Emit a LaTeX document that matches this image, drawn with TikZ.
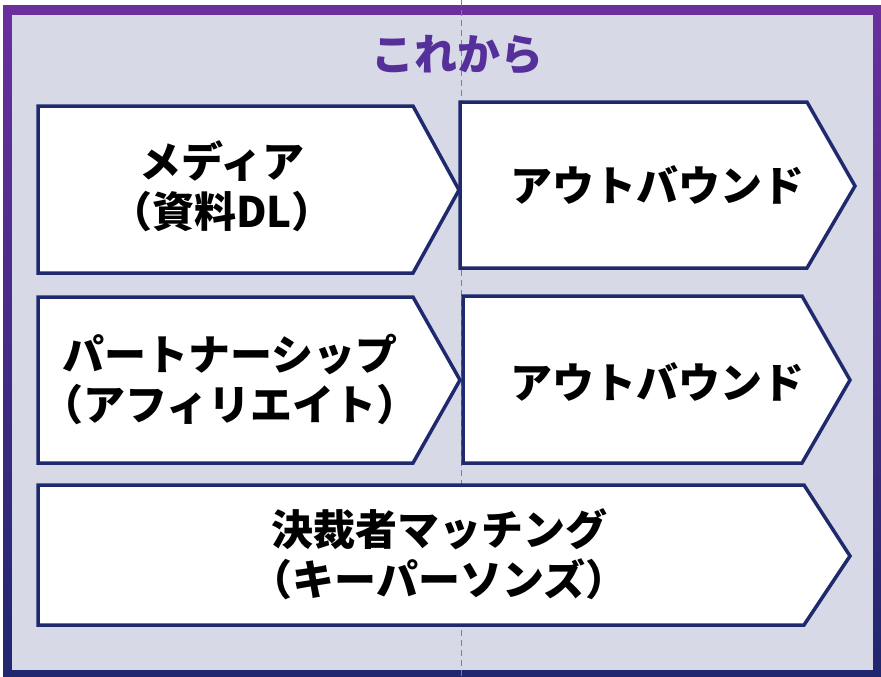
\documentclass[tikz,border=0pt]{standalone}
\usepackage{fontspec}
\newfontfamily\jpfont{Noto Sans CJK JP}
\definecolor{framepurple}{HTML}{6B2F9E}
\definecolor{framenavy}{HTML}{20276F}
\definecolor{panelbg}{HTML}{D7D9E6}
\definecolor{boxline}{HTML}{1F2A6E}
\definecolor{titlepurple}{HTML}{55309A}
\tikzset{
  chevron/.style={draw=boxline, line width=3.5pt, fill=white, line join=miter},
  boxtext/.style={font=\jpfont\bfseries\fontsize{42}{50}\selectfont, align=center, inner sep=0pt},
}

\begin{document}
\begin{tikzpicture}[x=1pt, y=-1pt]
			%%%%% FRAME %%%%%
			\useasboundingbox (0, 0) rectangle (881, 677);
			\shade[top color=framepurple, bottom color=framenavy] (3, 6) rectangle (881, 677);
			\fill[panelbg] (12, 15) rectangle (873, 670);
			\draw[gray, line width=1pt, dash pattern=on 6pt off 4pt] (461, 0) -- (461, 677);
			
			\node[font=\jpfont\bfseries\fontsize{43}{48}\selectfont, text=titlepurple, inner sep=0pt] (title) at (457, 55) {これから};
			
			%%%%% ROW 1 %%%%%
			\draw[chevron] (38, 106) -- (413, 106) -- (459, 190) -- (413, 273) -- (38, 273) -- cycle;
			\node[boxtext] (media) at (222, 186) {メディア\\（資料DL）};
			
			\draw[chevron] (460, 102) -- (807, 102) -- (855, 186) -- (807, 268) -- (460, 268) -- cycle;
			\node[boxtext] (outboundA) at (657, 185) {アウトバウンド};
			
			%%%%% ROW 2 %%%%%
			\draw[chevron] (38, 297) -- (413, 297) -- (460, 380) -- (413, 463) -- (38, 463) -- cycle;
			\node[boxtext] (partner) at (230, 379) {パートナーシップ\\（アフィリエイト）};
			
			\draw[chevron] (463, 296) -- (802, 296) -- (850, 380) -- (802, 463) -- (463, 463) -- cycle;
			\node[boxtext] (outboundB) at (657, 382) {アウトバウンド};
			
			%%%%% ROW 3 %%%%%
			\draw[chevron] (38, 485) -- (804, 485) -- (850, 556) -- (804, 625) -- (38, 625) -- cycle;
			\node[boxtext] (matching) at (439, 554) {決裁者マッチング\\（キーパーソンズ）};
			
			%%%%% END %%%%%
\end{tikzpicture}
\end{document}
